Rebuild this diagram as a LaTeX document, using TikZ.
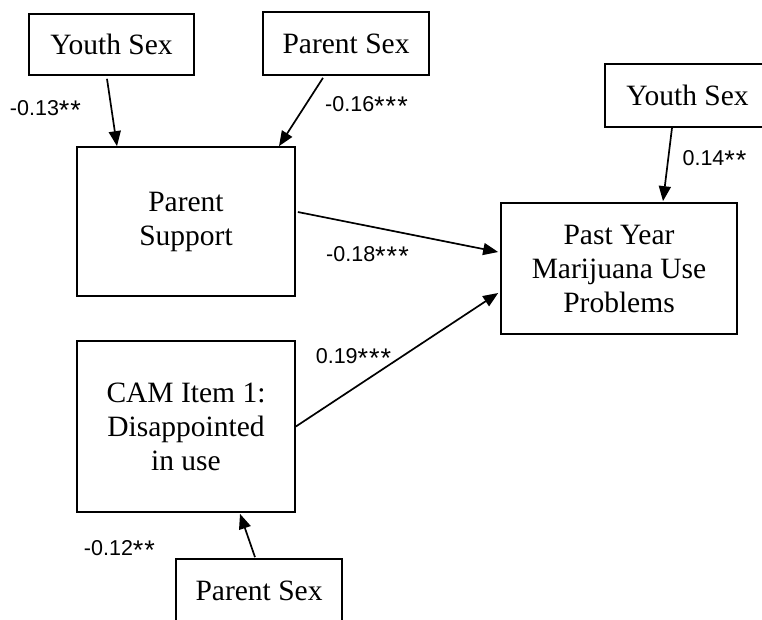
\documentclass[tikz,border=0pt]{standalone}
\usepackage{fontspec}
\setmainfont{Liberation Serif}
\newfontfamily\labfont{Liberation Sans}
\usetikzlibrary{arrows.meta,calc}
\newcommand{\sigstar}{{\fontsize{27}{27}\selectfont\raisebox{-4.5pt}{*}\kern1pt}}
\begin{document}
\begin{tikzpicture}[x=1pt,y=-1pt,
  varbox/.style={draw=black,line width=1.7pt,rectangle,inner sep=0pt,align=center,
    font=\fontsize{29.5}{34}\selectfont},
  arr/.style={line width=1.7pt,-{Triangle[length=15pt,width=12pt]}},
  coef/.style={font=\labfont\fontsize{21.5}{24}\selectfont,inner sep=0pt}]
\useasboundingbox (0,0) rectangle (762,619);
\fill[white] (0,0) rectangle (762,619);
% boxes
\node[varbox,minimum width=165pt,minimum height=61pt] (ys1) at (111.5,44.5) {Youth Sex};
\node[varbox,minimum width=166pt,minimum height=63pt] (ps1) at (346,43.5) {Parent Sex};
\node[varbox,minimum width=218pt,minimum height=149pt] (psup) at (186,221.5) {Parent\\Support};
\node[varbox,minimum width=218pt,minimum height=171pt] (cam) at (186,426.5) {CAM Item 1:\\Disappointed\\in use};
\node[varbox,minimum width=236pt,minimum height=131pt] (past) at (619,268.5) {Past Year\\Marijuana Use\\Problems};
\node[varbox,minimum width=165pt,minimum height=63pt] (ys2) at (687.5,95.5) {Youth Sex};
\node[varbox,minimum width=166pt,minimum height=63pt] (ps2) at (259,590.5) {Parent Sex};
% arrows
\draw[arr] ($(ys1.south)+(-4.5,3)$) -- ($(psup.north)+(-69,0)$);
\draw[arr] ($(ps1.south)+(-23,2)$) -- ($(psup.north)+(93,0)$);
\draw[arr] ($(ys2.south)+(-15.5,0)$) -- ($(past.north)+(44,-1)$);
\draw[arr] ($(psup.east)+(2,-9.5)$) -- ($(past.west)+(-2,-16.5)$);
\draw[arr] ($(cam.east)+(0,0)$) -- ($(past.west)+(-2,24.5)$);
\draw[arr] ($(ps2.north)+(-4,-1)$) -- ($(cam.south)+(54,1)$);
% coefficients
\node[coef] (c1) at (46,110) {-0.13\sigstar\sigstar};
\node[coef] (c2) at (367,106) {-0.16\sigstar\sigstar\sigstar};
\node[coef] (c3) at (715,160) {0.14\sigstar\sigstar};
\node[coef] (c4) at (368,256) {-0.18\sigstar\sigstar\sigstar};
\node[coef] (c5) at (354,358) {0.19\sigstar\sigstar\sigstar};
\node[coef] (c6) at (120,550) {-0.12\sigstar\sigstar};
\end{tikzpicture}
\end{document}
